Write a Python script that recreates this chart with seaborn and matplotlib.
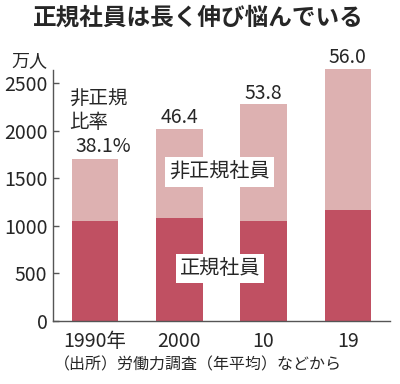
import matplotlib
matplotlib.use("Agg")
import matplotlib.pyplot as plt
import seaborn as sns
import numpy as np

# Data (万人)
categories = ["1990年", "2000", "10", "19"]
regular = [1050, 1080, 1050, 1165]
non_regular = [650, 935, 1225, 1480]
ratio_labels = ["38.1%", "46.4", "53.8", "56.0"]
yticks = [0, 500, 1000, 1500, 2000, 2500]

totals = [r + n for r, n in zip(regular, non_regular)]

sns.set_style("white")
plt.rcParams["font.family"] = ["Noto Sans CJK JP", "DejaVu Sans"]

dark = "#c05062"
light = "#ddb1b1"

fig = plt.figure(figsize=(4.0, 3.84), dpi=100)
ax = fig.add_axes([0.1325, 0.164, 0.975 - 0.1325, 0.8336 - 0.164])

sns.barplot(x=categories, y=totals, color=light, width=0.55, saturation=1,
            linewidth=0, edgecolor="none", ax=ax)
sns.barplot(x=categories, y=regular, color=dark, width=0.55, saturation=1,
            linewidth=0, edgecolor="none", ax=ax)

ax.set_xlim(-0.5, 3.5)
ax.set_ylim(0, 2700)
ax.set_yticks(yticks)
ax.set_yticklabels([str(t) for t in yticks])
ax.set_xlabel("")
ax.set_ylabel("")
for s in ["top", "right"]:
    ax.spines[s].set_visible(False)
ax.spines["left"].set_bounds(0, 2635)
ax.spines["left"].set_color("#555555")
ax.spines["bottom"].set_color("#555555")
ax.spines["left"].set_linewidth(1.0)
ax.spines["bottom"].set_linewidth(1.0)
ax.tick_params(axis="y", direction="in", length=4, width=1, color="#555555",
               labelsize=14, pad=4, left=True)
ax.tick_params(axis="x", length=0, labelsize=14, pad=7)

# Ratio labels above bars
for i in range(1, 4):
    ax.annotate(ratio_labels[i], xy=(i, totals[i]), xytext=(0, 0.5),
                textcoords="offset points", ha="center", va="bottom", fontsize=14)

# 1990 block label
ax.annotate(ratio_labels[0], xy=(0, totals[0]), xytext=(6, 1.5),
            textcoords="offset points", ha="center", va="bottom", fontsize=14)
ax.annotate("比率", xy=(-0.275, totals[0]), xytext=(-2, 19),
            textcoords="offset points", ha="left", va="bottom", fontsize=14)
ax.annotate("非正規", xy=(-0.275, totals[0]), xytext=(-2, 35.5),
            textcoords="offset points", ha="left", va="bottom", fontsize=14)

# In-chart labels with white boxes
box = dict(boxstyle="square,pad=0.2", facecolor="white", edgecolor="none")
ax.text(1.48, 1565, "非正規社員", ha="center", va="center", fontsize=14.5, bbox=box)
ax.text(1.48, 555, "正規社員", ha="center", va="center", fontsize=14.5, bbox=box)

fig.text(0.495, 1 - 18 / 384, "正規社員は長く伸び悩んでいる", ha="center", va="center",
         fontsize=17, fontweight="bold")
fig.text(29 / 400, 1 - 61 / 384, "万人", ha="center", va="center", fontsize=13)
fig.text(198 / 400, 1 - 365 / 384, "（出所）労働力調査（年平均）などから", ha="center",
         va="center", fontsize=11.5)

fig.savefig("out.png", dpi=100)
